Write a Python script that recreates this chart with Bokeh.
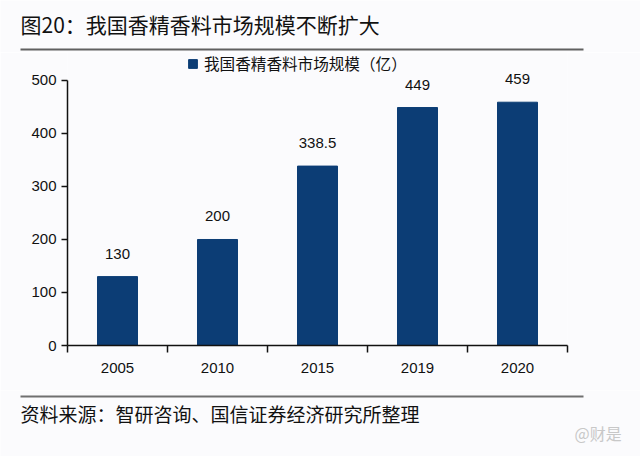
from bokeh.plotting import figure
from bokeh.models import (ColumnDataSource, Range1d, FixedTicker, LabelSet,
                          Legend, LegendItem)
from bokeh.core.properties import value
from bokeh.embed import file_html
from bokeh.resources import INLINE

years = ["2005", "2010", "2015", "2019", "2020"]
values = [130, 200, 338.5, 449, 459]
value_labels = ["130", "200", "338.5", "449", "459"]
y_ticks = [0, 100, 200, 300, 400, 500]

title_text = "图20：我国香精香料市场规模不断扩大"
legend_text = "我国香精香料市场规模（亿）"
source_text = "资料来源：智研咨询、国信证券经济研究所整理"
watermark_text = "@财是"

BAR = "#0C3D75"
BG = "#FBFBFD"
CJK = "Noto Sans CJK SC"
LAT = "Liberation Sans"
W = 640


def blank(h):
    f = figure(width=W, height=h, output_backend="svg", toolbar_location=None,
               x_range=Range1d(0, W), y_range=Range1d(0, h),
               x_axis_type=None, y_axis_type=None,
               min_border_left=0, min_border_right=0, min_border_top=0, min_border_bottom=0)
    f.background_fill_color = BG
    f.border_fill_color = BG
    f.outline_line_color = None
    f.xgrid.grid_line_color = None
    f.ygrid.grid_line_color = None
    return f

# ---- header
top = blank(52)
top.text(x=[20], y=[29], text=[title_text], text_font=value(CJK), text_font_size="21px",
         text_color="#111111", text_baseline="middle", text_align="left")
top.segment(x0=[20], y0=[3], x1=[583], y1=[3], line_color="#606060", line_width=2)

# ---- main chart
xs = [i + 0.5 for i in range(len(years))]
src = ColumnDataSource(dict(x=xs, top=values, lab=value_labels))

p = figure(width=W, height=338, output_backend="svg", toolbar_location=None,
           x_range=Range1d(0, len(years)), y_range=Range1d(0, 552.8),
           min_border_left=67, min_border_right=73, min_border_top=0,
           min_border_bottom=45)
p.background_fill_color = BG
p.border_fill_color = BG
p.outline_line_color = None
p.xgrid.grid_line_color = None
p.ygrid.grid_line_color = None

r = p.vbar(x="x", top="top", width=0.4, source=src, fill_color=BAR, line_color=BAR)

p.add_layout(LabelSet(x="x", y="top", text="lab", source=src, y_offset=23,
                      text_align="center", text_baseline="middle",
                      text_font=value(LAT), text_font_size="15px", text_color="#111111"))

xa = p.xaxis[0]
xa.ticker = FixedTicker(ticks=xs, minor_ticks=list(range(len(years) + 1)))
xa.major_label_overrides = {x: y for x, y in zip(xs, years)}
xa.major_tick_out = 0
xa.major_tick_in = 0
xa.minor_tick_out = 7
xa.minor_tick_in = 0
xa.minor_tick_line_color = "#111111"
xa.minor_tick_line_width = 1.5
xa.axis_line_color = "#111111"
xa.axis_line_width = 1.5
xa.major_label_text_font = LAT
xa.major_label_text_font_size = "15px"
xa.major_label_text_color = "#111111"
xa.major_label_standoff = 10

ya = p.yaxis[0]
ya.ticker = FixedTicker(ticks=y_ticks)
ya.bounds = (0, 500)
ya.minor_tick_line_color = None
ya.major_tick_out = 6
ya.major_tick_in = 0
ya.major_tick_line_color = "#111111"
ya.major_tick_line_width = 1.5
ya.axis_line_color = "#111111"
ya.axis_line_width = 1.5
ya.major_label_text_font = LAT
ya.major_label_text_font_size = "15px"
ya.major_label_text_color = "#111111"
ya.major_label_standoff = 5

leg = Legend(items=[LegendItem(label=legend_text, renderers=[r])],
             location=(120, 271), orientation="horizontal",
             label_text_font=CJK, label_text_font_size="15.6px", label_text_color="#111111",
             glyph_width=11, glyph_height=11, label_standoff=6, padding=0, margin=0,
             border_line_color=None, background_fill_alpha=0)
p.add_layout(leg)

# ---- footer
bot = blank(66)
bot.segment(x0=[20], y0=[60], x1=[583], y1=[60], line_color="#707070", line_width=2)
bot.text(x=[20], y=[43], text=[source_text], text_font=value(CJK), text_font_size="19px",
         text_color="#111111", text_baseline="middle", text_align="left")
bot.text(x=[574], y=[24], text=[watermark_text], text_font=value(CJK), text_font_size="16px",
         text_color="#C8C8C8", text_baseline="middle", text_align="left")

open("out.html", "w").write(file_html([top, p, bot], INLINE))
